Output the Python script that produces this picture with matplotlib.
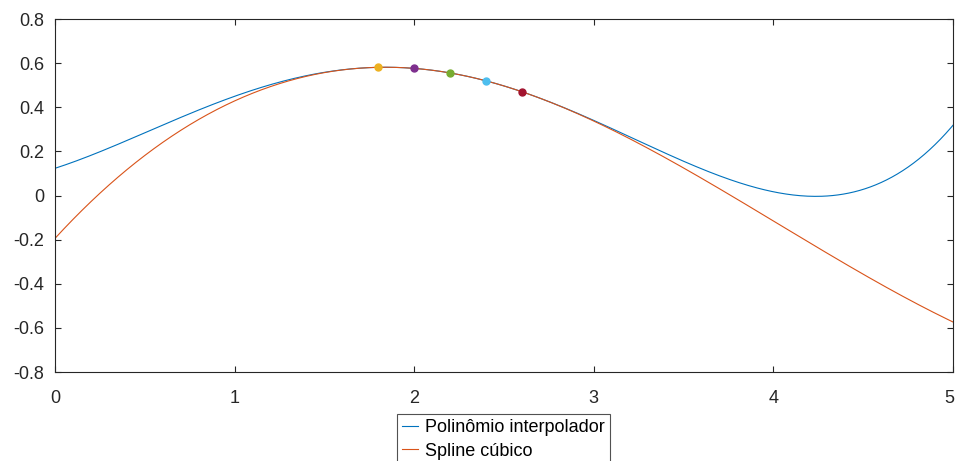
import matplotlib
matplotlib.use("Agg")
import matplotlib.pyplot as plt
import matplotlib.transforms as mtransforms
import numpy as np

# data points (J1 values)
xp = [1.8, 2.0, 2.2, 2.4, 2.6]
yp = [0.5815, 0.5767, 0.5560, 0.5202, 0.4708]
pt_colors = ['#EDB120', '#7E2F8E', '#77AC30', '#4DBEEE', '#A2142F']
labels = ['Polinômio interpolador', 'Spline cúbico']
xticks = [0, 1, 2, 3, 4, 5]
yticks = [-0.8, -0.6, -0.4, -0.2, 0, 0.2, 0.4, 0.6, 0.8]

plt.rcParams['font.family'] = ['Liberation Sans', 'DejaVu Sans']

xs = np.linspace(0, 5, 501)
xa = np.array(xp)
ya = np.array(yp)

# degree 4 interpolating polynomial
coef = np.polyfit(xa, ya, len(xa) - 1)
y_poly = np.polyval(coef, xs)

# not-a-knot cubic spline (single interior knot at the middle point)
k = xa[2]
A = np.column_stack([xa**3, xa**2, xa, np.ones_like(xa), np.clip(xa - k, 0, None)**3])
c = np.linalg.solve(A, ya)
y_spl = c[0]*xs**3 + c[1]*xs**2 + c[2]*xs + c[3] + c[4]*np.clip(xs - k, 0, None)**3

fig = plt.figure(figsize=(9.57, 4.61), dpi=100)
ax = fig.add_axes([0.0575, 0.193, 0.9383, 0.7655])

l1, = ax.plot(xs, y_poly, color='#0072BD', lw=0.8)
l2, = ax.plot(xs, y_spl, color='#D95319', lw=0.8)
for xi, yi, ci in zip(xp, yp, pt_colors):
    ax.plot(xi, yi, 'o', color=ci, ms=5)

ax.set_xlim(0, 5)
ax.set_ylim(-0.8, 0.8)
ax.set_xticks(xticks)
ax.set_yticks(yticks)
ax.set_yticklabels(['%g' % v for v in yticks])
ax.tick_params(direction='in', top=True, right=True, length=4, width=0.8,
               labelsize=13, colors='#262626')
ax.tick_params(axis='x', pad=13)
ax.tick_params(axis='y', pad=8)
for s in ax.spines.values():
    s.set_color('#262626')
    s.set_linewidth(0.8)

# keep the last x label inside the figure
last = ax.get_xticklabels()[-1]
last.set_transform(last.get_transform() +
                   mtransforms.ScaledTranslation(-3/72, 0, fig.dpi_scale_trans))

leg = fig.legend([l1, l2], labels, loc='upper center', bbox_to_anchor=(0.526, 0.102),
                 fontsize=13, frameon=True, fancybox=False, handlelength=0.9,
                 handletextpad=0.35, borderpad=0.3, labelspacing=0.35, borderaxespad=0)
leg.get_frame().set_edgecolor('#262626')
leg.get_frame().set_linewidth(0.8)

plt.savefig('out.png', dpi=100)
